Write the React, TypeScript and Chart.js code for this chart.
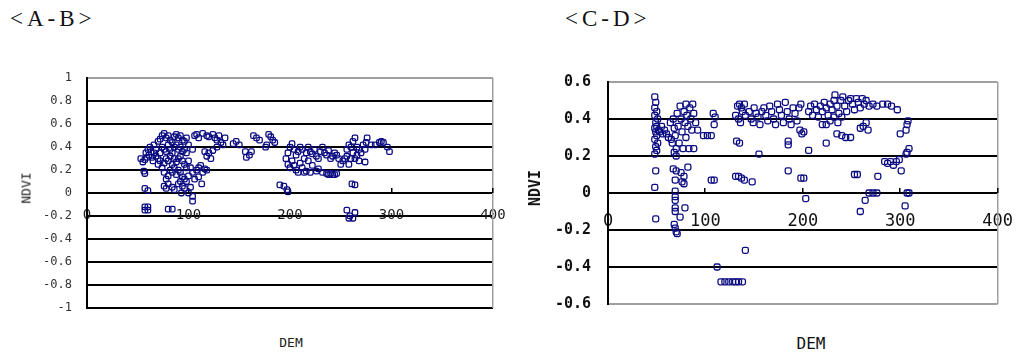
import React, { useEffect, useRef } from "react";
import { Chart, registerables } from "chart.js";

Chart.register(...registerables);

type Pt = [number, number];

const NAVY = "#0c0c82";
const GRAY = "#a0a0a0";

// ---------- texts ----------
const AB_TITLE = "<A-B>";
const CD_TITLE = "<C-D>";
const Y_TITLE = "NDVI";
const X_TITLE = "DEM";

// ---------- tick labels ----------
const X_TICKS = [0, 100, 200, 300, 400];
const AB_Y_TICKS = [-1, -0.8, -0.6, -0.4, -0.2, 0, 0.2, 0.4, 0.6, 0.8, 1];
const CD_Y_TICKS = [-0.6, -0.4, -0.2, 0, 0.2, 0.4, 0.6];

// ---------- <A-B> : DEM vs NDVI ----------
const AB_WEST: Pt[] = [
  [53, 0.30], [55, 0.27], [56, 0.19], [57, 0.29], [58, 0.35], [59, 0.31], [60, 0.38], [61, 0.33],
  [62, 0.40], [63, 0.36], [64, 0.31], [65, 0.28], [57, 0.17], [57, 0.04], [60, 0.02],
  [57, -0.12], [60, -0.12], [57, -0.15], [60, -0.15], [80, -0.14], [84, -0.14],
];
const AB_CORE: Pt[] = [
  [66, 0.42], [68, 0.38], [70, 0.45], [72, 0.47], [74, 0.50], [76, 0.52], [78, 0.48], [80, 0.50],
  [82, 0.46], [84, 0.44], [86, 0.49], [88, 0.51], [90, 0.48], [92, 0.50], [94, 0.46], [96, 0.45],
  [98, 0.48], [100, 0.42], [66, 0.35], [68, 0.32], [70, 0.30], [72, 0.35], [74, 0.40], [76, 0.38],
  [78, 0.36], [80, 0.42], [82, 0.38], [84, 0.35], [86, 0.40], [88, 0.42], [90, 0.38], [92, 0.40],
  [94, 0.36], [96, 0.38], [98, 0.35], [70, 0.25], [72, 0.28], [74, 0.22], [76, 0.26], [78, 0.30],
  [80, 0.28], [82, 0.32], [84, 0.25], [86, 0.30], [88, 0.27], [90, 0.30], [92, 0.32], [94, 0.28],
  [96, 0.25], [98, 0.22], [100, 0.28], [76, 0.18], [78, 0.12], [80, 0.15], [82, 0.20], [84, 0.18],
  [86, 0.22], [88, 0.16], [90, 0.20], [92, 0.18], [94, 0.14], [96, 0.12], [98, 0.10], [100, 0.15],
  [76, 0.06], [78, 0.04], [80, 0.08], [84, 0.05], [86, 0.03], [90, 0.08], [92, 0.10], [94, 0.06],
  [96, 0.04], [93, 0.00], [100, 0.00], [102, 0.05], [104, -0.03], [104, -0.07],
];
const AB_BAND: Pt[] = [
  [102, 0.22], [104, 0.18], [106, 0.12], [108, 0.20], [110, 0.22], [112, 0.24], [114, 0.18],
  [110, 0.14], [113, 0.08], [116, 0.21], [118, 0.20], [104, 0.38], [106, 0.50], [108, 0.51],
  [110, 0.48], [114, 0.52], [118, 0.50], [120, 0.49], [124, 0.51], [126, 0.48], [128, 0.46],
  [130, 0.50], [132, 0.44], [134, 0.42], [136, 0.48], [128, 0.40], [124, 0.37], [120, 0.35],
  [118, 0.32], [122, 0.30], [116, 0.36], [147, 0.45], [144, 0.43], [150, 0.42], [156, 0.36],
  [157, 0.31], [160, 0.33], [162, 0.36], [164, 0.50], [167, 0.48], [170, 0.46], [177, 0.42],
  [176, 0.40], [179, 0.51], [181, 0.49], [183, 0.46], [185, 0.44],
];
const AB_MID: Pt[] = [
  [190, 0.07], [194, 0.06], [197, 0.03], [198, 0.01], [196, 0.30], [198, 0.35], [200, 0.40],
  [202, 0.43], [204, 0.38], [206, 0.33], [208, 0.36], [210, 0.40], [212, 0.38], [214, 0.30],
  [216, 0.35], [218, 0.40], [220, 0.36], [222, 0.34], [224, 0.38], [226, 0.32], [228, 0.30],
  [230, 0.36], [232, 0.40], [234, 0.35], [236, 0.33], [238, 0.37], [240, 0.30], [242, 0.32],
  [244, 0.35], [246, 0.33], [248, 0.30], [198, 0.25], [200, 0.22], [202, 0.28], [204, 0.24],
  [206, 0.20], [208, 0.18], [210, 0.26], [212, 0.22], [214, 0.18], [216, 0.19], [218, 0.28],
  [220, 0.18], [222, 0.24], [226, 0.19], [228, 0.21], [232, 0.18], [236, 0.17], [238, 0.16],
  [240, 0.17], [242, 0.16], [244, 0.16], [246, 0.17],
];
const AB_EAST: Pt[] = [
  [250, 0.25], [252, 0.28], [254, 0.30], [256, 0.38], [258, 0.42], [260, 0.40], [262, 0.45],
  [264, 0.48], [266, 0.40], [268, 0.38], [270, 0.35], [256, 0.32], [258, 0.25], [260, 0.30],
  [262, 0.35], [264, 0.30], [266, 0.33], [268, 0.28], [272, 0.42], [274, 0.38], [276, 0.48],
  [275, 0.44], [280, 0.42], [284, 0.42], [288, 0.44], [290, 0.45], [292, 0.44], [296, 0.40],
  [298, 0.36], [274, 0.27], [256, -0.15], [259, -0.20], [262, -0.22], [264, -0.17], [258, -0.22],
  [261, 0.08], [264, 0.07],
];

// ---------- <C-D> : DEM vs NDVI ----------
const CD_WEST: Pt[] = [
  [48, 0.52], [49, 0.49], [48, 0.46], [50, 0.44], [48, 0.42], [51, 0.40], [49, 0.38], [50, 0.36],
  [48, 0.35], [52, 0.34], [49, 0.33], [50, 0.31], [48, 0.29], [51, 0.27], [49, 0.25], [50, 0.23],
  [48, 0.21], [49, 0.12], [48, 0.03], [49, -0.14], [53, 0.33], [55, 0.36], [56, 0.32],
  [58, 0.34], [60, 0.32], [62, 0.30], [64, 0.38], [65, 0.29], [66, 0.27], [67, 0.40], [68, 0.35],
  [69, 0.31], [70, 0.24], [68, 0.22], [70, 0.20], [71, 0.43], [72, 0.36], [73, 0.27], [74, 0.47],
  [75, 0.40], [76, 0.33], [77, 0.24], [78, 0.44], [79, 0.38], [80, 0.30], [80, 0.48], [81, 0.42],
  [82, 0.36], [83, 0.24], [84, 0.46], [85, 0.40], [86, 0.34], [87, 0.48], [88, 0.43], [88, 0.24],
  [90, 0.38], [92, 0.34],
];
const CD_WEST_LOW: Pt[] = [
  [67, 0.13], [70, 0.12], [75, 0.11], [82, 0.14], [78, 0.09], [69, 0.07], [76, 0.06], [78, 0.05],
  [69, 0.01], [69, -0.02], [69, -0.04], [69, -0.08], [69, -0.10], [74, -0.13], [79, -0.08],
  [68, -0.17], [69, -0.19], [70, -0.21], [71, -0.22],
];
const CD_MID: Pt[] = [
  [98, 0.31], [102, 0.31], [106, 0.31], [108, 0.43], [110, 0.41], [109, 0.37], [106, 0.07],
  [109, 0.07], [112, -0.40], [116, -0.48], [120, -0.48], [124, -0.48], [128, -0.48], [131, -0.48],
  [134, -0.48], [138, -0.48], [141, -0.31], [131, 0.42], [133, 0.47], [135, 0.48], [137, 0.46],
  [134, 0.40], [136, 0.38], [138, 0.44], [140, 0.48], [141, 0.42], [132, 0.28], [135, 0.27],
  [131, 0.09], [134, 0.09], [137, 0.08], [140, 0.07], [148, 0.06], [155, 0.21],
  [145, 0.44], [147, 0.40], [149, 0.38], [150, 0.46], [152, 0.43], [154, 0.41], [156, 0.37],
  [158, 0.44], [160, 0.46], [162, 0.42], [164, 0.39], [166, 0.47], [168, 0.44], [170, 0.40],
  [172, 0.37], [174, 0.48], [176, 0.45], [178, 0.42], [180, 0.38], [182, 0.49], [184, 0.44],
  [186, 0.40], [188, 0.37], [190, 0.46], [192, 0.43], [194, 0.39], [196, 0.46], [198, 0.48],
  [197, 0.34], [199, 0.32], [201, 0.33], [185, 0.28], [185, 0.26], [185, 0.12], [198, 0.08],
  [201, 0.08], [203, -0.03], [206, 0.23],
];
const CD_EAST: Pt[] = [
  [206, 0.44], [208, 0.47], [210, 0.42], [212, 0.48], [214, 0.45], [216, 0.41], [218, 0.47],
  [220, 0.44], [222, 0.49], [224, 0.46], [226, 0.42], [228, 0.48], [230, 0.45], [232, 0.50],
  [233, 0.53], [235, 0.47], [237, 0.43], [239, 0.50], [241, 0.52], [243, 0.47], [245, 0.44],
  [247, 0.50], [249, 0.51], [251, 0.48], [253, 0.45], [255, 0.51], [257, 0.49], [259, 0.46],
  [261, 0.51], [263, 0.48], [265, 0.50], [268, 0.47], [272, 0.48], [276, 0.47], [282, 0.48],
  [287, 0.48], [291, 0.47], [297, 0.45], [220, 0.37], [224, 0.37], [228, 0.39], [232, 0.41],
  [236, 0.38], [240, 0.41], [224, 0.27], [235, 0.32], [240, 0.31], [244, 0.30], [249, 0.30],
  [259, 0.35], [262, 0.36], [265, 0.38], [267, 0.34], [253, 0.10], [256, 0.10], [264, -0.04],
  [259, -0.10], [268, 0.0], [272, 0.0], [276, 0.0], [277, 0.09], [284, 0.17], [287, 0.16],
  [290, 0.17], [293, 0.15], [296, 0.17], [299, 0.18], [301, 0.12], [300, 0.32], [306, 0.34],
  [307, 0.37], [308, 0.39], [306, 0.21], [307, 0.22], [309, 0.24], [305, -0.07], [307, 0.0],
  [309, 0.0],
];

const AB_POINTS: Pt[] = [...AB_WEST, ...AB_CORE, ...AB_BAND, ...AB_MID, ...AB_EAST];
const CD_POINTS: Pt[] = [...CD_WEST, ...CD_WEST_LOW, ...CD_MID, ...CD_EAST];

const fmt = (v: number) => String(Math.round(v * 10) / 10);

function buildConfig(spec: any) {
  const yMin = spec.yTicks[0];
  const yMax = spec.yTicks[spec.yTicks.length - 1];
  return {
    type: "scatter",
    data: {
      datasets: [
        {
          data: spec.points.map(([x, y]: Pt) => ({ x, y })),
          pointStyle: "rectRounded",
          pointRadius: spec.radius,
          borderWidth: 1.3,
          borderColor: NAVY,
          backgroundColor: "rgba(0,0,0,0)",
        },
      ],
    },
    options: {
      animation: false,
      responsive: false,
      maintainAspectRatio: false,
      layout: { padding: spec.padding },
      plugins: { legend: { display: false }, tooltip: { enabled: false } },
      scales: {
        x: {
          type: "linear",
          min: 0,
          max: 400,
          position: { y: 0 },
          afterBuildTicks: (s: any) => {
            s.ticks = X_TICKS.map((v) => ({ value: v }));
          },
          grid: { display: false, drawTicks: false },
          border: { display: false },
          ticks: {
            padding: spec.xPad,
            font: spec.xFont,
            color: spec.xColor,
            maxRotation: 0,
            autoSkip: false,
            callback: (v: any) => String(v),
          },
        },
        y: {
          type: "linear",
          min: yMin,
          max: yMax,
          afterBuildTicks: (s: any) => {
            s.ticks = spec.yTicks.map((v: number) => ({ value: v }));
          },
          afterFit: (s: any) => {
            s.width = spec.yAxisWidth;
          },
          grid: {
            drawTicks: false,
            lineWidth: 2,
            color: (c: any) => {
              const v = c.tick ? c.tick.value : 0;
              if (v === yMax) return GRAY;
              if (v === yMin && spec.bottomGray) return GRAY;
              return "#000";
            },
          },
          border: { color: "#000", width: 2 },
          ticks: {
            padding: spec.yPad,
            font: spec.yFont,
            color: spec.yColor,
            autoSkip: false,
            callback: (v: any) => fmt(Number(v)),
          },
        },
      },
    },
    plugins: [
      {
        id: "frameExtras",
        beforeDatasetsDraw(chart: any) {
          const { ctx, chartArea: a } = chart;
          const xs = chart.scales.x;
          const ys = chart.scales.y;
          ctx.save();
          ctx.fillStyle = GRAY;
          ctx.fillRect(Math.round(a.right) - 1, a.top, 1.5, a.bottom - a.top);
          ctx.fillStyle = "#000";
          const y0 = Math.round(ys.getPixelForValue(0));
          X_TICKS.forEach((v) => {
            if (v === 0) return;
            const px = Math.round(xs.getPixelForValue(v));
            ctx.fillRect(px - 1, y0 - 5, 1.5, 5);
          });
          ctx.restore();
        },
      },
    ],
  };
}

// canvases sit at page y = 56 (8px body margin + 48px spacer); AB at x = 8, CD at x = 520
const AB_SPEC = {
  points: AB_POINTS,
  yTicks: AB_Y_TICKS,
  padding: { left: 0, top: 10, right: 27, bottom: 14 },
  yAxisWidth: 79,
  bottomGray: false,
  yFont: { family: "'DejaVu Sans Mono'", size: 12 },
  yColor: "#333",
  yPad: 15,
  xFont: { family: "'DejaVu Sans Mono'", size: 14 },
  xColor: "#1a1a1a",
  xPad: 14,
  radius: 3.2,
};

const CD_SPEC = {
  points: CD_POINTS,
  yTicks: CD_Y_TICKS,
  padding: { left: 0, top: 14, right: 19, bottom: 14 },
  yAxisWidth: 88,
  bottomGray: true,
  yFont: { family: "'DejaVu Sans Mono'", size: 15, weight: "bold" },
  yColor: "#111",
  yPad: 17,
  xFont: { family: "'DejaVu Sans Mono'", size: 17 },
  xColor: "#111",
  xPad: 18,
  radius: 3.5,
};

const abs = (left: number, top: number, extra: any = {}) => ({
  position: "absolute" as const,
  left,
  top,
  whiteSpace: "nowrap" as const,
  ...extra,
});
const centered = (left: number, top: number, extra: any = {}) =>
  abs(left, top, { transform: "translate(-50%, -50%)", ...extra });

export default function App() {
  const abRef = useRef<HTMLCanvasElement | null>(null);
  const cdRef = useRef<HTMLCanvasElement | null>(null);
  useEffect(() => {
    const a = new Chart(abRef.current!, buildConfig(AB_SPEC) as any);
    const b = new Chart(cdRef.current!, buildConfig(CD_SPEC) as any);
    return () => {
      a.destroy();
      b.destroy();
    };
  }, []);
  const titleFont = {
    fontFamily: "'Liberation Serif', serif",
    fontSize: 23,
    lineHeight: "23px",
    letterSpacing: "4px",
    color: "#111",
  };
  return (
    <div>
      <div style={{ height: 48 }} />
      <div style={{ display: "flex" }}>
        <canvas
          ref={abRef}
          width={512}
          height={274}
          style={{ width: 512, height: 274, display: "block", flexShrink: 0 }}
        />
        <canvas
          ref={cdRef}
          width={511}
          height={274}
          style={{ width: 511, height: 274, display: "block", flexShrink: 0 }}
        />
      </div>
      <div style={abs(10, 7, titleFont)}>{AB_TITLE}</div>
      <div style={abs(565, 7, titleFont)}>{CD_TITLE}</div>
      <div
        style={centered(26, 188, {
          transform: "translate(-50%, -50%) rotate(-90deg)",
          fontFamily: "'DejaVu Sans Mono'",
          fontSize: 13,
          color: "#222",
        })}
      >
        {Y_TITLE}
      </div>
      <div
        style={centered(535, 188, {
          transform: "translate(-50%, -50%) rotate(-90deg)",
          fontFamily: "'DejaVu Sans Mono'",
          fontSize: 15,
          fontWeight: "bold",
          color: "#111",
        })}
      >
        {Y_TITLE}
      </div>
      <div style={centered(291, 342, { fontFamily: "'DejaVu Sans Mono'", fontSize: 13, color: "#222" })}>
        {X_TITLE}
      </div>
      <div style={centered(811, 343, { fontFamily: "'DejaVu Sans Mono'", fontSize: 16, color: "#111" })}>
        {X_TITLE}
      </div>
    </div>
  );
}
